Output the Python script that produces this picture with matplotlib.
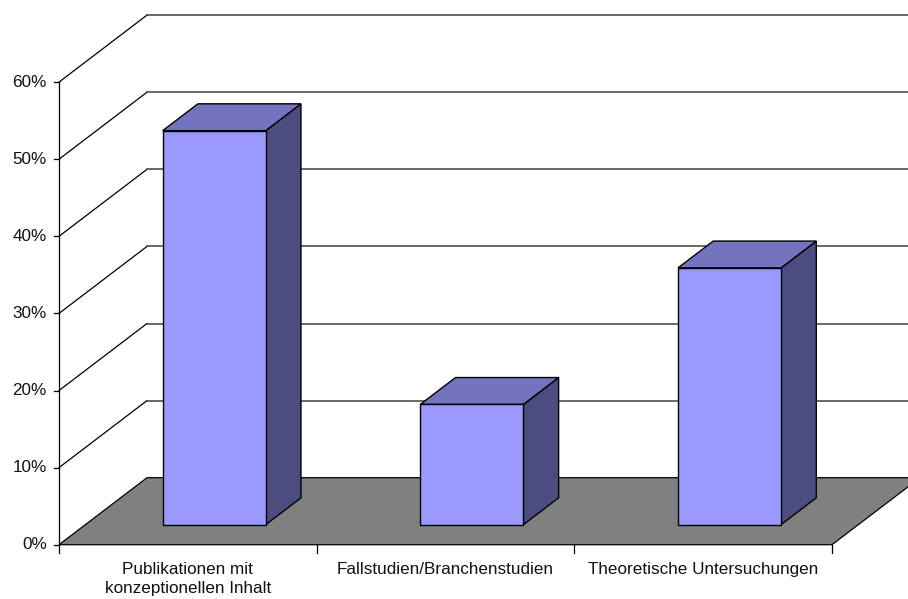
import matplotlib.pyplot as plt
from matplotlib.patches import Polygon

plt.rcParams["font.family"] = ["Liberation Sans", "DejaVu Sans"]

categories = ["Publikationen mit\nkonzeptionellen Inhalt",
              "Fallstudien/Branchenstudien",
              "Theoretische Untersuchungen"]
shares = [51.1, 15.6, 33.3]          # percent
y_ticks = [0, 10, 20, 30, 40, 50, 60]

# oblique depth vector (x in category units, y in percent)
DX, DY = 0.3415, 8.69
BAR_W = 0.4
BAR_D0, BAR_D1 = 0.3, 0.7

FRONT = "#9999ff"
TOP = "#7373bf"
SIDE = "#4c4c80"
FLOOR = "#808080"
FS = 12.3


def proj(x, v, d):
    return (x + d * DX, v + d * DY)


def poly(ax, pts, color, zorder, lw=1.0):
    ax.add_patch(Polygon(pts, closed=True, facecolor=color,
                         edgecolor="black", linewidth=lw, zorder=zorder))


fig = plt.figure(figsize=(9.08, 5.99), dpi=100)
ax = fig.add_axes([0, 0, 1, 1])
ax.set_xlim(-0.229, 3.295)
ax.set_ylim(-7.04, 70.65)
ax.axis("off")

n = len(categories)
top = max(y_ticks)

# floor
poly(ax, [proj(0, 0, 0), proj(0, 0, 1), proj(n, 0, 1), proj(n, 0, 0)],
     FLOOR, 1, lw=0.9)

# gridlines on the side and back walls
for t in y_ticks[1:]:
    x0, y0 = proj(0, t, 0)
    x1, y1 = proj(0, t, 1)
    x2, y2 = proj(n, t, 1)
    ax.plot([x0, x1], [y0, y1], color="black", lw=0.9, zorder=2)
    ax.plot([x1, x2], [y1, y2], color="#404040", lw=1.1, zorder=2)

# value axis with ticks
ax.plot([0, 0], [0, top], color="black", lw=0.9, zorder=3)
for t in y_ticks:
    ax.plot([-0.02, 0], [t, t], color="black", lw=0.9, zorder=3)
    ax.text(-0.048, t, f"{t}%", ha="right", va="center", fontsize=FS,
            color="#111111")

# category axis ticks and labels
for i in range(n + 1):
    ax.plot([i, i], [0, -1.1], color="black", lw=0.9, zorder=3)
for i, label in enumerate(categories):
    ax.text(i + 0.5, -2.2, label, ha="center", va="top", fontsize=FS,
            linespacing=1.4, color="#111111")

# bars: side, top, front
for i, v in enumerate(shares):
    xl = i + 0.5 - BAR_W / 2
    xr = i + 0.5 + BAR_W / 2
    poly(ax, [proj(xr, 0, BAR_D0), proj(xr, 0, BAR_D1),
              proj(xr, v, BAR_D1), proj(xr, v, BAR_D0)], SIDE, 5)
    poly(ax, [proj(xl, v, BAR_D0), proj(xl, v, BAR_D1),
              proj(xr, v, BAR_D1), proj(xr, v, BAR_D0)], TOP, 5)
    poly(ax, [proj(xl, 0, BAR_D0), proj(xr, 0, BAR_D0),
              proj(xr, v, BAR_D0), proj(xl, v, BAR_D0)], FRONT, 6)

fig.savefig("out.png", dpi=100)
